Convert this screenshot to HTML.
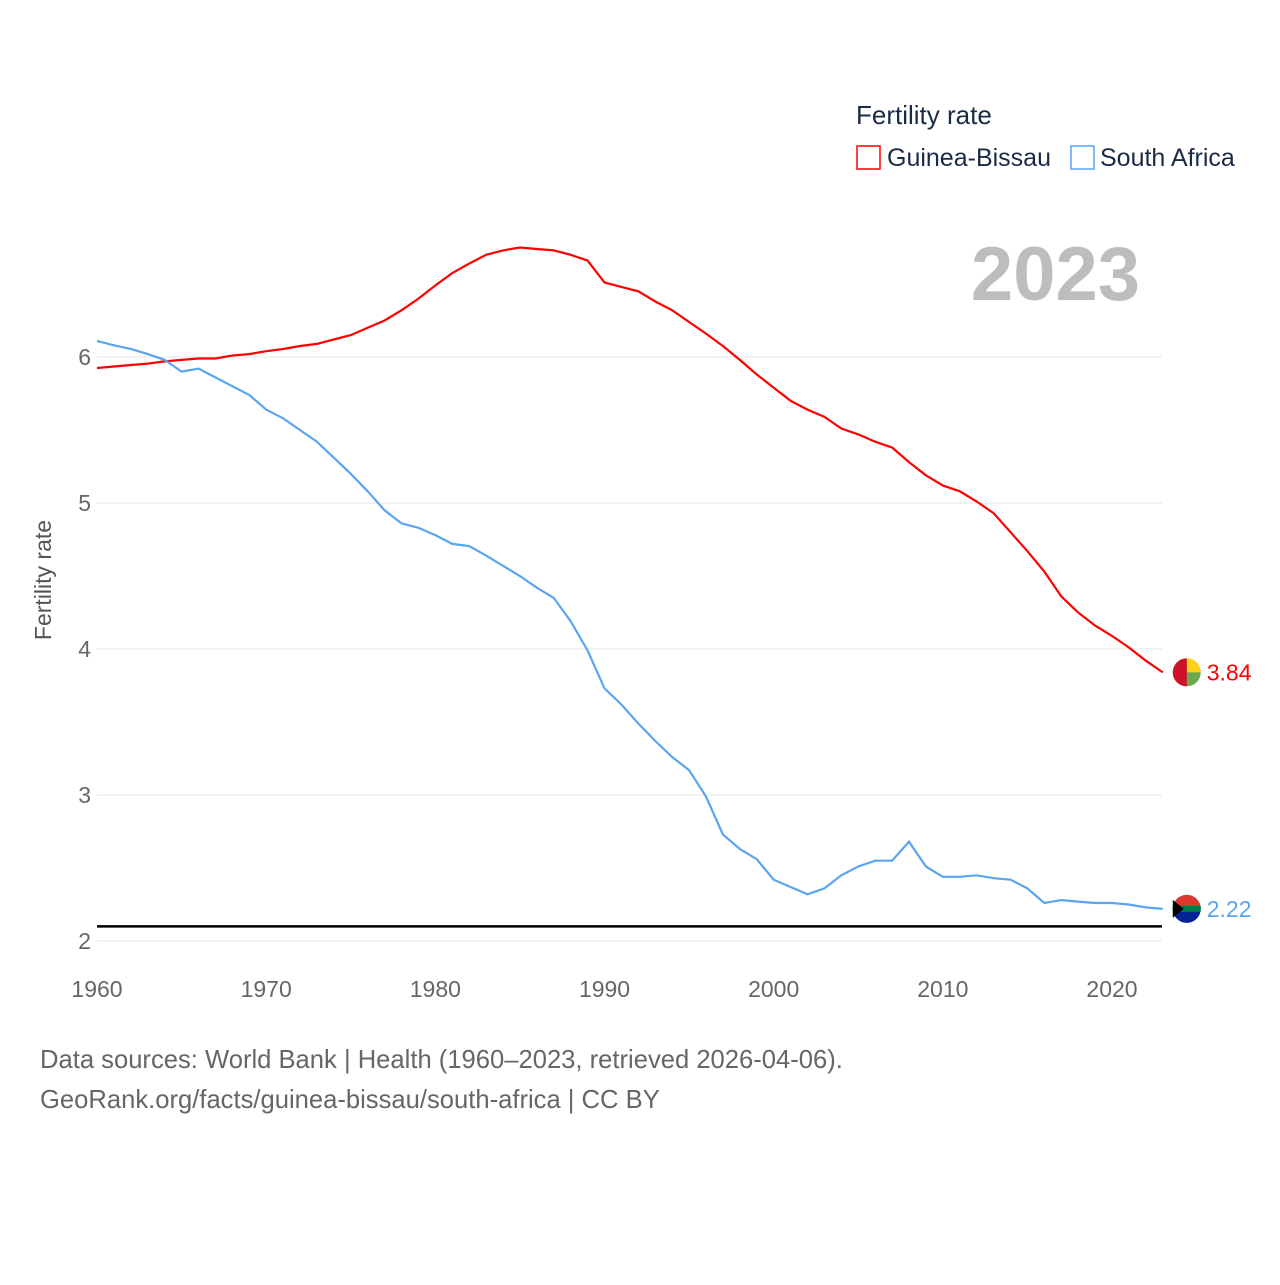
<!DOCTYPE html>
<html><head><meta charset="utf-8"><style>
body{margin:0;background:#fff;width:1280px;height:1280px;overflow:hidden;font-family:"Liberation Sans",sans-serif}
svg text{font-family:"Liberation Sans",sans-serif}
</style></head><body>
<svg id="chart" width="1280" height="1280" xmlns="http://www.w3.org/2000/svg">
<text x="856" y="124" font-size="26" fill="#1a2b45">Fertility rate</text>
<g><rect x="857" y="146" width="23" height="23" fill="none" stroke="#ff0000" stroke-width="1.5"/><text x="887" y="166" font-size="25" fill="#1a2b45">Guinea-Bissau</text></g>
<g><rect x="1071" y="146" width="23" height="23" fill="none" stroke="#5aa5f0" stroke-width="1.5"/><text x="1100" y="166" font-size="25" fill="#1a2b45">South Africa</text></g>
<text x="1140" y="300" font-size="76" font-weight="bold" fill="#bdbdbd" text-anchor="end">2023</text>
<text transform="translate(51,580) rotate(-90)" font-size="23" fill="#555" text-anchor="middle">Fertility rate</text>
<g id="grid"></g><g id="series"></g>
<text x="40" y="1068" font-size="25.6" fill="#666">Data sources: World Bank | Health (1960–2023, retrieved 2026-04-06).</text>
<text x="40" y="1108" font-size="25.6" fill="#666">GeoRank.org/facts/guinea-bissau/south-africa | CC BY</text>
</svg>
<script>
const years=[];for(let y=1960;y<=2023;y++)years.push(y);
const guineaBissau=[5.925,5.935,5.945,5.955,5.97,5.98,5.99,5.99,6.01,6.02,6.04,6.055,6.075,6.09,6.12,6.15,6.20,6.25,6.32,6.40,6.49,6.575,6.64,6.70,6.73,6.75,6.74,6.73,6.70,6.66,6.51,6.48,6.45,6.38,6.32,6.24,6.16,6.075,5.98,5.88,5.79,5.70,5.64,5.59,5.51,5.47,5.42,5.38,5.28,5.19,5.12,5.08,5.01,4.93,4.80,4.67,4.53,4.36,4.25,4.16,4.09,4.01,3.92,3.84];
const southAfrica=[6.11,6.08,6.055,6.02,5.98,5.90,5.92,5.86,5.80,5.74,5.64,5.58,5.50,5.42,5.31,5.20,5.08,4.95,4.86,4.83,4.78,4.72,4.705,4.64,4.57,4.50,4.42,4.35,4.19,3.99,3.73,3.62,3.49,3.37,3.26,3.17,2.99,2.73,2.63,2.56,2.42,2.37,2.32,2.36,2.45,2.51,2.55,2.55,2.68,2.51,2.44,2.44,2.45,2.43,2.42,2.36,2.26,2.28,2.27,2.26,2.26,2.25,2.23,2.22];
const yTicks=[2,3,4,5,6];
const xTicks=[1960,1970,1980,1990,2000,2010,2020];
const replacementRate=2.1;
const X=y=>97+(y-1960)*(1015/60);
const Y=v=>941-(v-2)*146;
const NS="http://www.w3.org/2000/svg";
const grid=document.getElementById('grid'),series=document.getElementById('series');
function mk(tag,attrs,parent,txt){const e=document.createElementNS(NS,tag);for(const k in attrs)e.setAttribute(k,attrs[k]);if(txt!=null)e.textContent=txt;parent.appendChild(e);return e;}
yTicks.forEach(v=>{
  const l=mk('line',{x1:97,x2:1162,y1:Y(v),y2:Y(v),stroke:'#e6e6e6','stroke-width':1},grid);
  
  
  const t=mk('text',{x:91,y:Y(v)+8,'font-size':23,fill:'#666','text-anchor':'end'},grid,v);
  
  
});
xTicks.forEach(v=>{
  const t=mk('text',{x:X(v),y:997,'font-size':23,fill:'#666','text-anchor':'middle'},grid,v);
  
  
});
const rl=mk('line',{x1:97,x2:1162,y1:Y(replacementRate),y2:Y(replacementRate),stroke:'#000','stroke-width':2.5},grid);


function line(vals,color,name){
  const d=vals.map((v,i)=>(i?'L':'M')+X(years[i]).toFixed(1)+','+Y(v).toFixed(1)).join('');
  const p=mk('path',{d:d,fill:'none',stroke:color,'stroke-width':2.2},series);
  
  
  const last=vals[vals.length-1];
  const cx=X(2023)+24,cy=Y(last);
  const g=mk('g',{},series);
  
  
  return {g,cx,cy,last};
}
const gb=line(guineaBissau,'#ff0000','guinea-bissau');
mk('circle',{cx:gb.cx,cy:gb.cy,r:14,fill:'#6aa84f'},gb.g);
mk('path',{d:`M${gb.cx},${gb.cy-14}A14,14 0 0 1 ${gb.cx+14},${gb.cy}L${gb.cx},${gb.cy}Z`,fill:'#fcd116'},gb.g);
mk('path',{d:`M${gb.cx},${gb.cy+14}A14,14 0 0 1 ${gb.cx},${gb.cy-14}Z`,fill:'#ce1126'},gb.g);
const gt=mk('text',{x:gb.cx+20,y:gb.cy+8,'font-size':23,fill:'#ff0000'},series,gb.last.toFixed(2));


const sa=line(southAfrica,'#5aa5f0','south-africa');
mk('circle',{cx:sa.cx,cy:sa.cy,r:14,fill:'#002395'},sa.g);
mk('path',{d:`M${sa.cx-14},${sa.cy}A14,14 0 0 1 ${sa.cx+14},${sa.cy}Z`,fill:'#de3831'},sa.g);
mk('rect',{x:sa.cx-14,y:sa.cy-3,width:28,height:6,fill:'#007a4d'},sa.g);
mk('path',{d:`M${sa.cx-14},${sa.cy-9}L${sa.cx-3},${sa.cy}L${sa.cx-14},${sa.cy+9}Z`,fill:'#000'},sa.g);
const st=mk('text',{x:sa.cx+20,y:sa.cy+8,'font-size':23,fill:'#5aa5f0'},series,sa.last.toFixed(2));


</script>
</body></html>
